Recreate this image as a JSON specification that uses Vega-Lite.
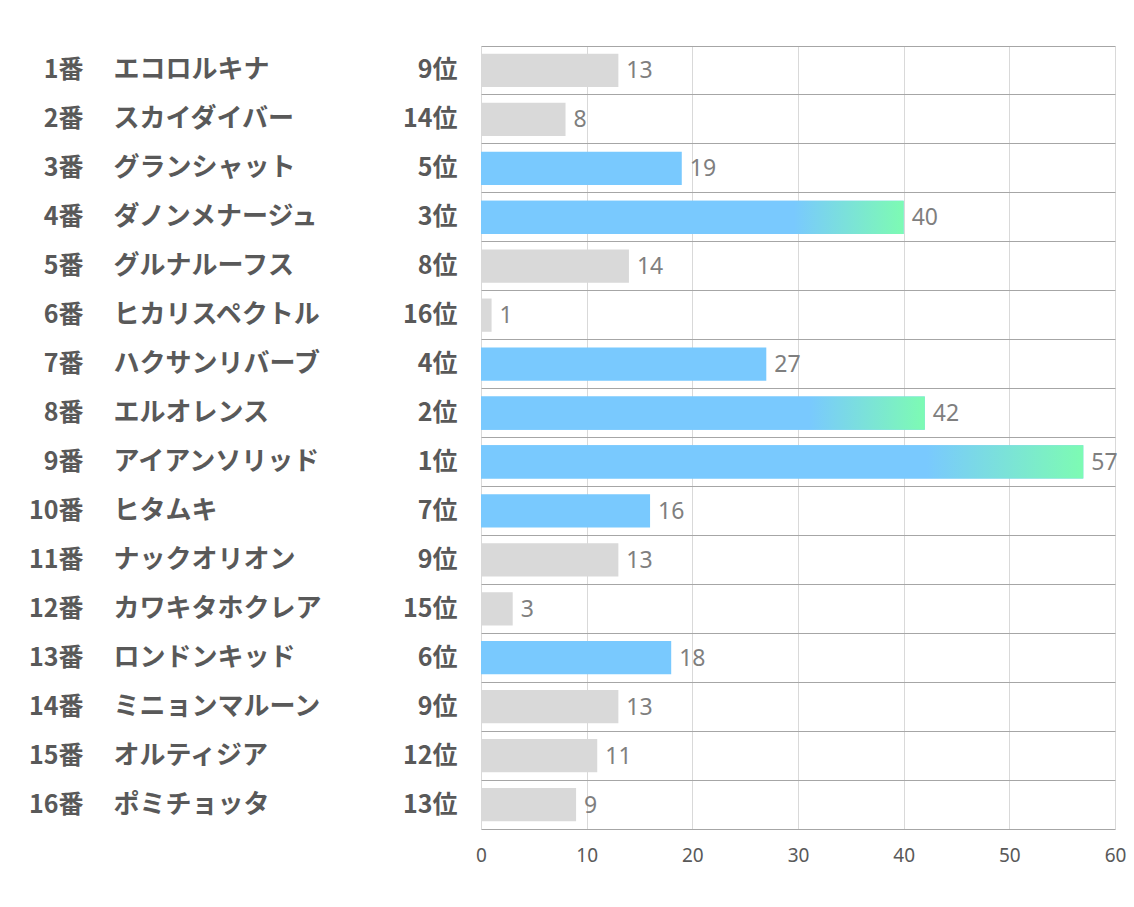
{
  "$schema": "https://vega.github.io/schema/vega-lite/v6.json",
  "width": 634,
  "height": 783,
  "autosize": {"type": "none"},
  "padding": {"left": 481, "top": 46, "right": 19, "bottom": 78},
  "background": "white",
  "config": {
    "view": {"stroke": null},
    "axis": {"labelFont": "Noto Sans CJK JP", "labelColor": "#595959", "title": null}
  },
  "data": {
    "values": [
      {"no": 1, "key": "1番|エコロルキナ|9位", "place": 9, "value": 13},
      {"no": 2, "key": "2番|スカイダイバー|14位", "place": 14, "value": 8},
      {"no": 3, "key": "3番|グランシャット|5位", "place": 5, "value": 19},
      {"no": 4, "key": "4番|ダノンメナージュ|3位", "place": 3, "value": 40},
      {"no": 5, "key": "5番|グルナルーフス|8位", "place": 8, "value": 14},
      {"no": 6, "key": "6番|ヒカリスペクトル|16位", "place": 16, "value": 1},
      {"no": 7, "key": "7番|ハクサンリバーブ|4位", "place": 4, "value": 27},
      {"no": 8, "key": "8番|エルオレンス|2位", "place": 2, "value": 42},
      {"no": 9, "key": "9番|アイアンソリッド|1位", "place": 1, "value": 57},
      {"no": 10, "key": "10番|ヒタムキ|7位", "place": 7, "value": 16},
      {"no": 11, "key": "11番|ナックオリオン|9位", "place": 9, "value": 13},
      {"no": 12, "key": "12番|カワキタホクレア|15位", "place": 15, "value": 3},
      {"no": 13, "key": "13番|ロンドンキッド|6位", "place": 6, "value": 18},
      {"no": 14, "key": "14番|ミニョンマルーン|9位", "place": 9, "value": 13},
      {"no": 15, "key": "15番|オルティジア|12位", "place": 12, "value": 11},
      {"no": 16, "key": "16番|ポミチョッタ|13位", "place": 13, "value": 9}
    ]
  },
  "encoding": {
    "x": {
      "field": "value", "type": "quantitative",
      "scale": {"domain": [0, 60], "nice": false},
      "axis": {
        "orient": "bottom",
        "values": [0, 10, 20, 30, 40, 50, 60],
        "grid": true, "gridColor": "#d9d9d9", "gridWidth": 1,
        "domain": true, "domainColor": "#a6a6a6", "domainWidth": 1,
        "ticks": false, "labelPadding": 17,
        "labelFont": "Noto Sans", "labelFontSize": 19, "labelColor": "#595959",
        "labelFontWeight": "normal", "labelFlush": false
      }
    }
  },
  "layer": [
    {
      "mark": {"type": "bar", "height": {"band": 0.68}},
      "encoding": {
        "y": {
          "field": "key", "type": "nominal", "sort": null,
          "scale": {"paddingInner": 0, "paddingOuter": 0},
          "axis": {
            "orient": "left", "domain": false, "ticks": false,
            "grid": true, "gridColor": "#a6a6a6", "gridWidth": 1,
            "bandPosition": 0,
            "labelExpr": "split(datum.value, '|')[2]",
            "labelAlign": "right", "labelBaseline": "middle", "labelPadding": 24,
            "labelFontSize": 25, "labelFontWeight": "bold", "labelLimit": 400
          }
        },
        "color": {
          "condition": {"test": "datum.place <= 7", "value": "#79C9FE"},
          "value": "#D9D9D9"
        }
      }
    },
    {
      "mark": {"type": "bar", "height": {"band": 0.68}},
      "encoding": {
        "y": {
          "field": "key", "type": "nominal", "sort": null,
          "axis": {
            "orient": "left", "domain": false, "ticks": false, "grid": false,
            "labelExpr": "split(datum.value, '|')[0]",
            "labelAlign": "right", "labelBaseline": "middle", "labelPadding": 398,
            "labelFontSize": 25, "labelFontWeight": "bold", "labelLimit": 400
          }
        },
        "color": {
          "condition": {
            "test": "datum.place <= 3",
            "value": {
              "gradient": "linear", "x1": 0, "x2": 1, "y1": 0, "y2": 0,
              "stops": [
                {"offset": 0, "color": "#79C9FE"},
                {"offset": 0.74, "color": "#79C9FE"},
                {"offset": 1, "color": "#7DFBB3"}
              ]
            }
          },
          "value": null
        }
      }
    },
    {
      "mark": {"type": "text", "align": "left", "baseline": "middle", "dx": 8, "dy": 1, "font": "Noto Sans", "fontSize": 23, "color": "#7f7f7f"},
      "encoding": {
        "y": {
          "field": "key", "type": "nominal", "sort": null,
          "axis": {
            "orient": "left", "domain": false, "ticks": false, "grid": false,
            "labelExpr": "split(datum.value, '|')[1]",
            "labelAlign": "left", "labelBaseline": "middle", "labelPadding": 368,
            "labelFontSize": 26, "labelFontWeight": "bold", "labelLimit": 400
          }
        },
        "text": {"field": "value", "type": "quantitative"}
      }
    }
  ],
  "resolve": {"axis": {"y": "independent"}}
}
